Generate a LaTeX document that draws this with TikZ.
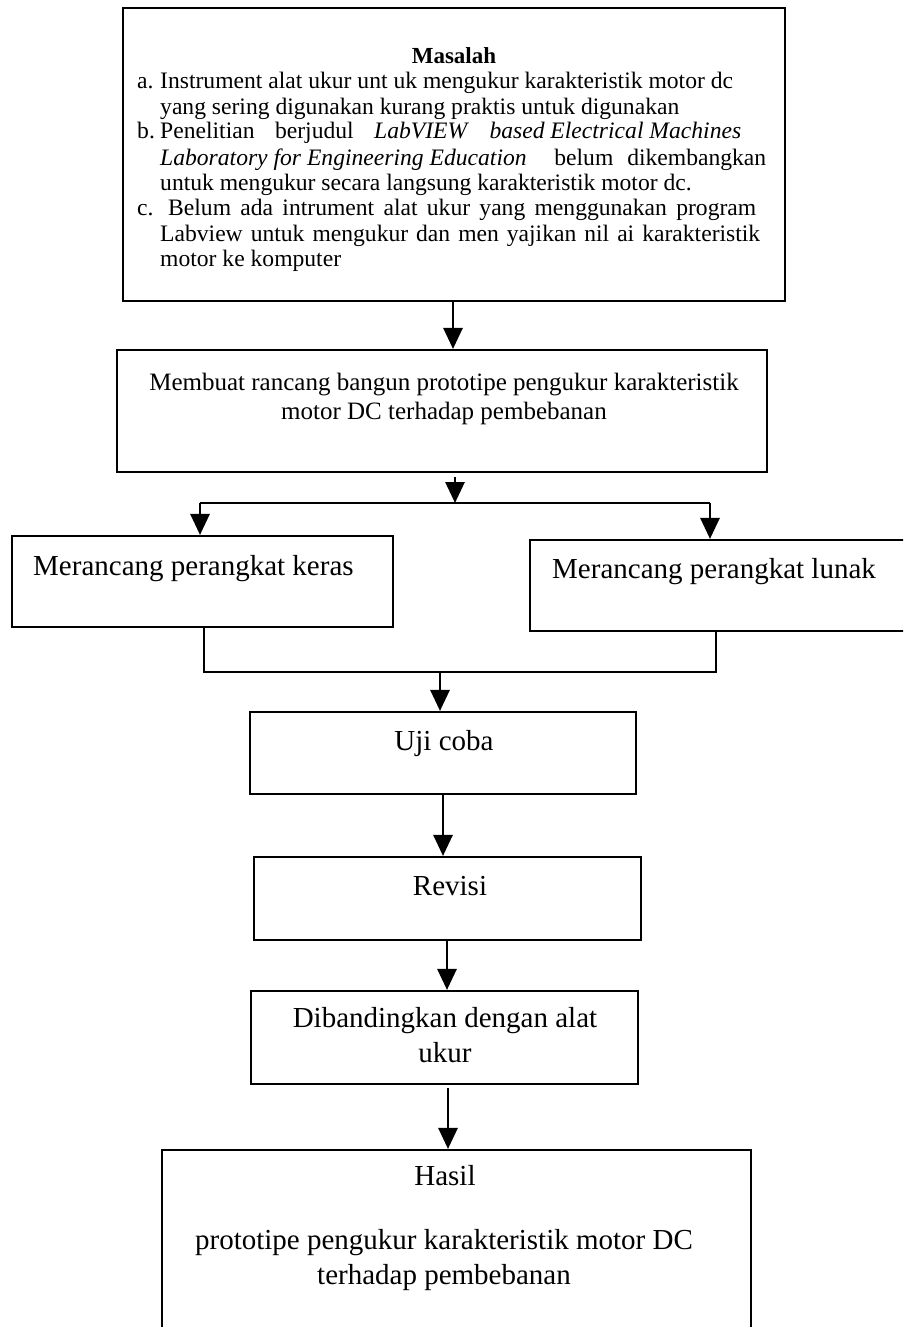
\documentclass[tikz,border=0pt]{standalone}
\usepackage{fontspec}
\setmainfont{Liberation Serif}
\newfontfamily\topfont{Liberation Serif}
\usetikzlibrary{arrows.meta}
\begin{document}
\begin{tikzpicture}[x=1pt,y=-1pt,
  box/.style={draw, line width=2.1pt, rectangle, inner sep=0pt},
  arr/.style={line width=2.8pt, -{Triangle[length=21pt,width=19pt]}},
  ln/.style={line width=2.5pt},
  big/.style={font=\fontsize{29}{34}\selectfont, inner sep=0pt},
  mid/.style={font=\fontsize{25}{29}\selectfont, inner sep=0pt},
  tl/.style={font=\topfont\fontsize{23.6}{25}\selectfont, anchor=base west, inner sep=0pt},
]
\useasboundingbox (0,0) rectangle (903,1327);
\clip (0,0) rectangle (903,1327);

% boxes
\node[box, minimum width=662pt, minimum height=293pt] (masalah) at (454,154.5) {};
\node[box, minimum width=650pt, minimum height=122pt] (rancang) at (442,411) {};
\node[box, minimum width=381pt, minimum height=91pt] (keras) at (202.5,581.5) {};
\node[box, minimum width=380pt, minimum height=91pt] (lunak) at (720,585.5) {};
\node[box, minimum width=386pt, minimum height=82pt] (uji) at (443,753) {};
\node[box, minimum width=387pt, minimum height=83pt] (revisi) at (447.5,898.5) {};
\node[box, minimum width=387pt, minimum height=93pt] (banding) at (444.5,1037.5) {};
\node[box, minimum width=589pt, minimum height=220pt] (hasil) at (456.5,1260) {};

% top box text
\node[font=\topfont\fontsize{23}{25}\selectfont\bfseries, inner sep=0pt, anchor=base] (tmas) at (454,64) {Masalah};
\node[tl] (la) at (137,89) {a.};
\node[tl] (l1) at (160,89) {Instrument\ alat ukur unt\ uk mengukur karakteristik motor dc};
\node[tl] (l2) at (160,114) {yang sering digunakan kurang praktis untuk digunakan};
\node[tl] (lb) at (137,139) {b.};
\node[tl] (l3) at (160,139) {\hbox to 581pt{Penelitian\hfill berjudul\hfill \textit{LabVIEW}\hfill \textit{based Electrical Machines}}};
\node[tl] (l4) at (160,165) {\hbox to 606pt{\textit{Laboratory for Engineering Education}\hfill\hfill belum\hfill dikembangkan}};
\node[tl] (l5) at (160,190) {untuk mengukur secara langsung karakteristik motor dc.};
\node[tl] (lc) at (137,215) {c.};
\node[tl] (l6) at (168,215) {\makebox[588pt][s]{Belum ada intrument alat ukur yang menggunakan program}};
\node[tl] (l7) at (160,241) {\makebox[600pt][s]{Labview untuk mengukur dan men yajikan nil ai karakteristik}};
\node[tl] (l8) at (160,266) {motor ke komputer};

% other texts
\node[mid, anchor=base] (t2a) at (444,390) {Membuat rancang bangun prototipe pengukur karakteristik};
\node[mid, anchor=base] (t2b) at (444,419) {motor DC terhadap pembebanan};
\node[big, anchor=base west] (t3) at (33,575) {Merancang perangkat keras};
\node[big, anchor=base west] (t4) at (552,578) {Merancang perangkat lunak};
\node[big, anchor=base] (t5) at (444,750) {Uji coba};
\node[big, anchor=base] (t6) at (450,895) {Revisi};
\node[big, anchor=base] (t7a) at (445,1027) {Dibandingkan dengan alat};
\node[big, anchor=base] (t7b) at (445,1062) {ukur};
\node[big, anchor=base] (t8a) at (445,1185) {Hasil};
\node[big, anchor=base] (t8b) at (444,1249) {prototipe pengukur karakteristik motor DC};
\node[big, anchor=base] (t8c) at (444,1284) {terhadap pembebanan};

% connectors
\coordinate (a1) at (453,301);
\draw[arr] (a1) -- (a1 |- rancang.north);
\coordinate (a2) at (455,477);
\coordinate (sm) at (455,503);
\draw[arr] (a2) -- (sm);
\coordinate (sl) at (200,503);
\coordinate (sr) at (710,503);
\draw[ln] (sl) -- (sr);
\draw[arr] (sl) -- (sl |- keras.north);
\draw[arr] (sr) -- (sr |- lunak.north);
\coordinate (jl) at (204,672);
\coordinate (jr) at (716,672);
\coordinate (jm) at (440,672);
\draw[ln] (jl |- keras.south) -- (jl) -- (jr) -- (jr |- lunak.south);
\draw[arr] (jm) -- (jm |- uji.north);
\draw[arr] (uji.south) -- (uji.south |- revisi.north);
\coordinate (a6) at (447,940);
\draw[arr] (a6) -- (a6 |- banding.north);
\coordinate (a7) at (448,1088);
\draw[arr] (a7) -- (a7 |- hasil.north);
\end{tikzpicture}
\end{document}
